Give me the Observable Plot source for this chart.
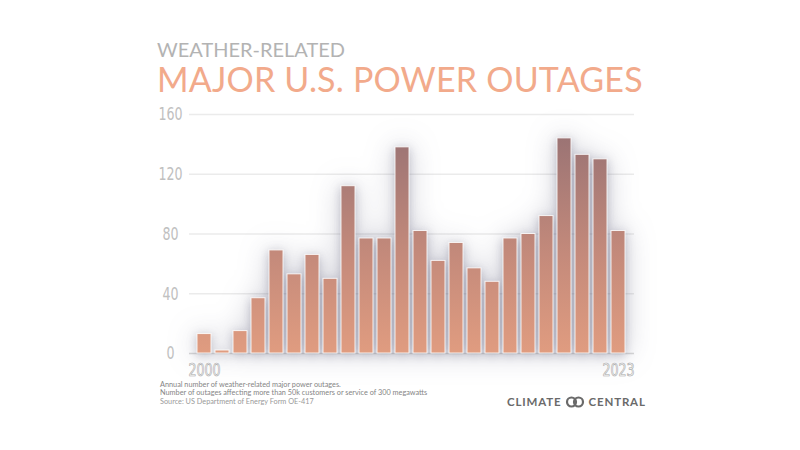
<!DOCTYPE html>
<html>
<head>
<meta charset="utf-8">
<script src="https://cdn.jsdelivr.net/npm/d3@7"></script>
<script src="https://cdn.jsdelivr.net/npm/@observablehq/plot@0.6"></script>
<style>
  html, body { margin: 0; padding: 0; background: #fff; }
  #page { position: relative; width: 800px; height: 450px; overflow: hidden; font-family: Lato, "Open Sans", sans-serif; }
  #sub { position: absolute; left: 157px; top: 39px; font-size: 20px; line-height: 20px; color: #b3b3b3; font-weight: 400; white-space: nowrap; }
  #title { position: absolute; left: 157px; top: 62px; font-size: 34px; line-height: 34px; color: #f2aa8b; font-weight: 400; letter-spacing: 0.2px; white-space: nowrap; }
  #chart { position: absolute; left: 0; top: 100px; }
  #caption { position: absolute; left: 160px; top: 381px; font-size: 7.3px; line-height: 8.4px; color: #858585; white-space: nowrap; }
  #caption .src { color: #9a9a9a; }
  #logo { position: absolute; left: 507px; top: 395px; font-size: 11.5px; line-height: 14px; font-weight: 700; letter-spacing: 0.85px; color: #6a6a6a; white-space: nowrap; display: flex; align-items: center; }
  #logo svg { margin: 0 4px 0 3px; }
</style>
</head>
<body>
<div id="page">
  <div id="sub">WEATHER-RELATED</div>
  <div id="title">MAJOR U.S. POWER OUTAGES</div>
  <div id="chart"></div>
  <div id="caption">
    <div>Annual number of weather-related major power outages.</div>
    <div>Number of outages affecting more than 50k customers or service of 300 megawatts</div>
    <div class="src">Source: US Department of Energy Form OE-417</div>
  </div>
  <div id="logo">CLIMATE<svg width="20" height="12" viewBox="0 0 20 12"><circle cx="6.5" cy="6" r="4.5" fill="none" stroke="#6a6a6a" stroke-width="2.2"/><circle cx="13.5" cy="6" r="4.5" fill="none" stroke="#6a6a6a" stroke-width="2.2"/></svg>CENTRAL</div>
</div>
<script>
const years = [2000,2001,2002,2003,2004,2005,2006,2007,2008,2009,2010,2011,2012,2013,2014,2015,2016,2017,2018,2019,2020,2021,2022,2023];
const outages = [13,2,15,37,69,53,66,50,112,77,77,138,82,62,74,57,48,77,80,92,144,133,130,82];
const yTicks = [0,40,80,120,160];
const xLabels = [2000,2023];

const data = years.map((y, i) => ({year: y, value: outages[i]}));

const W = 800, H = 290, mT = 14, mB = 37, mL = 189, mR = 166;
const condensed = "'Liberation Sans Narrow', 'DejaVu Sans Condensed', 'Roboto Condensed', 'Liberation Sans', sans-serif";

const gradientDefs = () => {
  const ns = "http://www.w3.org/2000/svg";
  const defs = document.createElementNS(ns, "defs");
  const lg = document.createElementNS(ns, "linearGradient");
  lg.setAttribute("id", "barGrad");
  lg.setAttribute("gradientUnits", "userSpaceOnUse");
  lg.setAttribute("x1", 0); lg.setAttribute("x2", 0);
  lg.setAttribute("y1", mT + 20); lg.setAttribute("y2", H - mB);
  [["0%", "#9a7374"], ["55%", "#c48a7b"], ["100%", "#e09c80"]].forEach(([o, c]) => {
    const s = document.createElementNS(ns, "stop");
    s.setAttribute("offset", o); s.setAttribute("stop-color", c);
    lg.appendChild(s);
  });
  defs.appendChild(lg);
  return defs;
};

const chart = Plot.plot({
  width: W, height: H,
  marginTop: mT, marginBottom: mB, marginLeft: mL, marginRight: mR,
  style: {background: "transparent", overflow: "visible"},
  x: {type: "band", domain: years, padding: 0.2, axis: null},
  y: {domain: [0, 160], axis: null, label: null},
  marks: [
    gradientDefs,
    Plot.gridY([40, 80, 120, 160], {stroke: "#ebebeb", strokeOpacity: 1, strokeWidth: 1.5}),
    Plot.ruleY([0], {stroke: "#d8d8d8", strokeWidth: 1.5}),
    Plot.barY(data, {x: "year", y: "value", fill: "url(#barGrad)", stroke: "#fff", strokeOpacity: 0.85, strokeWidth: 1}),
    Plot.axisY(yTicks, {label: null, tickSize: 0, tickPadding: 19, textAnchor: "middle", fontSize: 18, fill: "#c0c0c0", fontFamily: condensed}),
    Plot.text(xLabels, {x: d => d, y: 0, dy: 17, text: d => String(d), fontSize: 18, fill: "#fcfcfc", stroke: "#a8a8a8", strokeWidth: 0.7, paintOrder: "normal", fontFamily: condensed})
  ]
});

d3.select(chart).selectAll("g[aria-label='bar']")
  .style("filter", "drop-shadow(0px 2px 5px rgba(80,80,110,0.32)) drop-shadow(0px 0px 14px rgba(90,90,120,0.30))");
document.getElementById("chart").appendChild(chart);

// narrow the axis digits to mimic the condensed face of the reference
d3.select(chart).selectAll("g[aria-label='y-axis tick label'] text, g[aria-label='text'] text").each(function() {
  const t = this.getAttribute("transform");
  if (t) this.setAttribute("transform", t + " scale(0.78,1)");
  else {
    const x = +this.getAttribute("x") || 0;
    this.setAttribute("transform", `translate(${x},0) scale(0.78,1) translate(${-x},0)`);
  }
});
</script>
</body>
</html>
